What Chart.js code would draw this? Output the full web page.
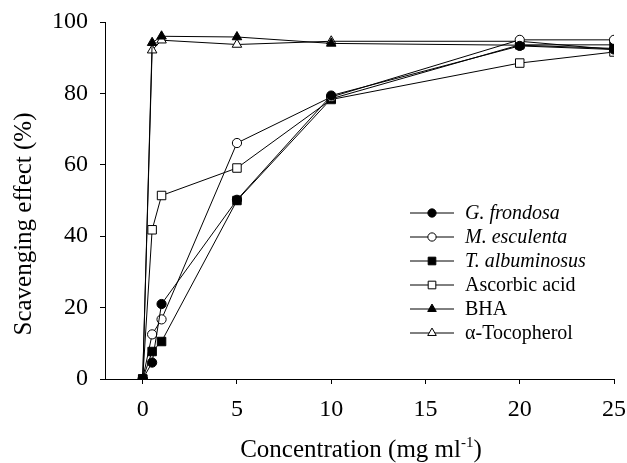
<!DOCTYPE html>
<html>
<head>
<meta charset="utf-8">
<script src="https://cdn.jsdelivr.net/npm/chart.js@4.4.1/dist/chart.umd.min.js"></script>
<style>
  html, body { margin: 0; padding: 0; background: #fff; }
  #wrap { width: 627px; height: 463px; position: relative; }
</style>
</head>
<body>
<div id="wrap"><canvas id="chart"></canvas></div>
<script>
// concentration (mg/ml)
const concentrations = [0, 0.5, 1, 5, 10, 20, 25];

// scavenging effect (%)
const gFrondosa = [0, 4.6, 21, 50.2, 79.4, 93.3, 92.3];
const mEsculenta = [0, 12.5, 16.7, 66.1, 79, 95, 95];
const tAlbuminosus = [0, 7.7, 10.5, 50, 78.5, 93.6, 93.6];
const ascorbicAcid = [0, 41.8, 51.4, 59.1, 78.3, 88.5, 91.6];
const bha = [0, 94.2, 96, 95.8, 94, 93.5, 92.6];
const tocopherol = [0, 92.1, 94.9, 93.7, 94.6, 94.6, 92.3];

const xTicks = [0, 5, 10, 15, 20, 25];

const FONT = "'Liberation Serif', 'Times New Roman', serif";

function pts(values) {
  return values.map((v, i) => ({ x: concentrations[i], y: v }));
}

function series(label, values, style, filled, radius, italic) {
  return {
    label: label,
    data: pts(values),
    borderColor: "#000",
    borderWidth: 1,
    pointStyle: style,
    pointRadius: radius,
    pointHoverRadius: radius,
    pointBorderWidth: 1,
    pointBorderColor: "#000",
    pointBackgroundColor: filled ? "#000" : "#fff",
    italic: italic,
    fill: false,
    tension: 0,
  };
}

const datasets = [
  series("G. frondosa", gFrondosa, "circle", true, 4.6, true),
  series("M. esculenta", mEsculenta, "circle", false, 4.6, true),
  series("T. albuminosus", tAlbuminosus, "rect", true, 6, true),
  series("Ascorbic acid", ascorbicAcid, "rect", false, 6, false),
  series("BHA", bha, "triangle", true, 5.5, false),
  series("\u03b1-Tocopherol", tocopherol, "triangle", false, 5.5, false),
];

// draws marker the same way for the legend
function marker(ctx, style, filled, r, x, y) {
  ctx.save();
  ctx.beginPath();
  if (style === "circle") {
    ctx.arc(x, y, r, 0, Math.PI * 2);
  } else if (style === "rect") {
    const s = r * Math.SQRT1_2;
    ctx.rect(x - s, y - s, 2 * s, 2 * s);
  } else {
    const a = -Math.PI / 2;
    for (let k = 0; k < 3; k++) {
      const t = a + (k * 2 * Math.PI) / 3;
      const px = x + Math.cos(t) * r;
      const py = y + Math.sin(t) * r;
      if (k === 0) ctx.moveTo(px, py);
      else ctx.lineTo(px, py);
    }
    ctx.closePath();
  }
  ctx.fillStyle = filled ? "#000" : "#fff";
  ctx.fill();
  ctx.lineWidth = 1;
  ctx.strokeStyle = "#000";
  ctx.stroke();
  ctx.restore();
}

const extras = {
  id: "extras",
  afterDraw(chart) {
    const ctx = chart.ctx;
    ctx.save();
    ctx.fillStyle = "#000";

    // legend
    let y = 213;
    chart.data.datasets.forEach((ds) => {
      ctx.beginPath();
      ctx.moveTo(410, y);
      ctx.lineTo(454, y);
      ctx.lineWidth = 1;
      ctx.strokeStyle = "#000";
      ctx.stroke();
      marker(ctx, ds.pointStyle, ds.pointBackgroundColor === "#000", ds.pointRadius * 0.9, 432, y);
      ctx.font = (ds.italic ? "italic " : "") + "20px " + FONT;
      ctx.textBaseline = "middle";
      ctx.textAlign = "left";
      ctx.fillText(ds.label, 465, y + 1);
      y += 24;
    });

    // y axis title
    ctx.save();
    ctx.translate(24, 224);
    ctx.rotate(-Math.PI / 2);
    ctx.font = "25px " + FONT;
    ctx.textAlign = "center";
    ctx.textBaseline = "middle";
    ctx.fillText("Scavenging effect (%)", 0, 0);
    ctx.restore();

    // x axis title with superscript
    const main1 = "Concentration (mg ml";
    const sup = "-1";
    const main2 = ")";
    ctx.textBaseline = "alphabetic";
    ctx.textAlign = "left";
    ctx.font = "25px " + FONT;
    const w1 = ctx.measureText(main1).width;
    const w3 = ctx.measureText(main2).width;
    ctx.font = "15px " + FONT;
    const w2 = ctx.measureText(sup).width;
    const total = w1 + w2 + w3;
    let x = 361 - total / 2;
    const base = 457;
    ctx.font = "25px " + FONT;
    ctx.fillText(main1, x, base);
    ctx.font = "15px " + FONT;
    ctx.fillText(sup, x + w1, base - 10);
    ctx.font = "25px " + FONT;
    ctx.fillText(main2, x + w1 + w2, base);
    ctx.restore();
  },
};

new Chart(document.getElementById("chart"), {
  type: "line",
  data: { datasets: datasets },
  options: {
    responsive: true,
    maintainAspectRatio: false,
    animation: false,
    layout: { padding: { top: 22, right: 13, left: 0, bottom: 0 } },
    plugins: {
      legend: { display: false },
      tooltip: { enabled: false },
    },
    scales: {
      x: {
        type: "linear",
        min: -2,
        max: 25,
        afterBuildTicks(scale) {
          scale.ticks = xTicks.map((v) => ({ value: v }));
        },
        afterFit(scale) {
          scale.height = 84;
          scale.paddingLeft = 0;
          scale.paddingRight = 0;
        },
        border: { color: "#000", width: 1 },
        grid: { drawOnChartArea: false, drawTicks: true, tickLength: 5, color: "#000" },
        ticks: {
          color: "#000",
          font: { family: FONT, size: 24 },
          padding: 11,
          maxRotation: 0,
        },
      },
      y: {
        type: "linear",
        min: 0,
        max: 100,
        afterFit(scale) {
          scale.width = 105;
          scale.paddingTop = 0;
          scale.paddingBottom = 0;
        },
        border: { color: "#000", width: 1 },
        grid: { drawOnChartArea: false, drawTicks: true, tickLength: 5, color: "#000" },
        ticks: {
          stepSize: 20,
          color: "#000",
          font: { family: FONT, size: 24 },
          padding: 12,
        },
      },
    },
  },
  plugins: [extras],
});
</script>
</body>
</html>
